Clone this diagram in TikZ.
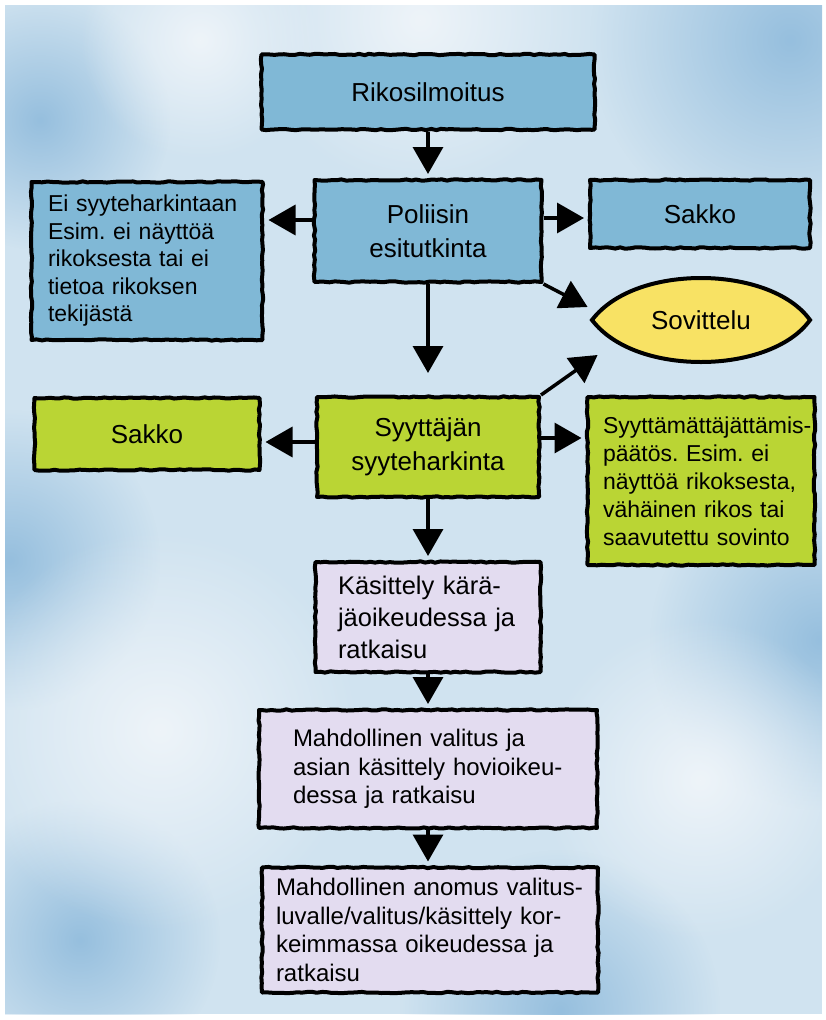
\documentclass[tikz,border=0pt]{standalone}
\usepackage{fontspec}
\setmainfont{Liberation Sans}
\usetikzlibrary{arrows.meta,decorations.pathmorphing,shapes.geometric,fadings}

\definecolor{sky}{RGB}{208,227,240}
\definecolor{skydark}{RGB}{150,191,222}
\definecolor{skylight}{RGB}{238,244,249}
\definecolor{police}{RGB}{128,184,214}
\definecolor{prosecutor}{RGB}{186,213,52}
\definecolor{mediation}{RGB}{248,226,100}
\definecolor{court}{RGB}{227,220,240}

\tikzfading[name=blob, inner color=transparent!0, outer color=transparent!100]

\frenchspacing
\begin{document}
\begin{tikzpicture}[x=1pt, y=-1pt, thick,
    main/.style = {draw, rectangle, line width=4pt, line join=round, inner sep=0pt,
        decorate, decoration={random steps, segment length=5pt, amplitude=0.7pt},
        font=\fontsize{26}{34}\selectfont, align=center},
    small/.style = {font=\fontsize{23}{27.5}\selectfont, align=left},
    court/.style = {main, fill=court, align=left, font=\fontsize{24}{28.5}\selectfont},
    arr/.style = {line width=3.5pt, -{Triangle[length=27pt, width=30pt]}, shorten >=4pt}]
    \useasboundingbox (0,0) rectangle (826,1020);
    % watercolour sky
    \fill[white] (0,0) rectangle (826,1020);
    \begin{scope}
        \clip (5,5) rectangle (822,1014);
        \fill[sky] (5,5) rectangle (822,1014);
        \fill[skydark, path fading=blob] (790,40) circle (200);
        \fill[skydark, path fading=blob] (40,120) circle (130);
        \fill[skydark, path fading=blob] (820,640) circle (170);
        \fill[skydark, path fading=blob] (10,560) circle (150);
        \fill[skydark, path fading=blob] (560,1010) circle (160);
        \fill[skydark, path fading=blob] (80,940) circle (140);
        \fill[skylight, path fading=blob] (420,20) circle (170);
        \fill[skylight, path fading=blob] (160,730) circle (200);
        \fill[skylight, path fading=blob] (700,780) circle (160);
        \fill[skylight, path fading=blob] (200,40) circle (120);
    \end{scope}

    \node[main, fill=police, minimum width=333pt, minimum height=75pt] (1) at (428,92) {Rikosilmoitus};

    \node[main, fill=police, minimum width=227pt, minimum height=102pt] (2) at (428,231) {Poliisin\\esitutkinta};
    \draw[arr] (1.south) -- (2.north);

    \node[main, small, fill=police, minimum width=231pt, minimum height=158pt, text width=198pt] (3) at (147,261) {Ei syyteharkintaan\\Esim.\ ei näyttöä\\rikoksesta tai ei\\tietoa rikoksen\\tekijästä};
    \draw[arr] ([yshift=11pt]2.west) -- ([yshift=11pt]2.west -| 3.east);

    \node[main, fill=police, minimum width=220pt, minimum height=68pt] (4) at (700,214) {Sakko};
    \draw[arr] ([yshift=13pt]2.east) -- ([yshift=13pt]2.east -| 4.west);

    % lens shaped mediation
    \filldraw[fill=mediation, line width=4pt] (592,320) .. controls (615,290) and (660,278) .. (701,278)
        .. controls (745,278) and (790,292) .. (810,320) .. controls (790,348) and (745,362) .. (701,362)
        .. controls (660,362) and (615,350) .. (592,320) -- cycle;
    \node[ellipse, minimum width=218pt, minimum height=84pt, inner sep=0pt, font=\fontsize{26}{34}\selectfont] (5) at (701,320) {Sovittelu};
    \draw[arr, shorten >=0pt] (2.south east) -- ([shift={(-4pt,13pt)}]5.west);

    \node[main, fill=prosecutor, minimum width=222pt, minimum height=100pt] (6) at (428,447) {Syyttäjän\\syyteharkinta};
    \draw[arr, shorten >=22pt] (2.south) -- (6.north);
    \draw[arr, shorten >=0pt] (6.north east) -- ([shift={(6pt,-35pt)}]5.west);

    \node[main, fill=prosecutor, minimum width=225pt, minimum height=72pt] (7) at (147,434) {Sakko};
    \draw[arr] ([yshift=5pt]6.west) -- ([yshift=5pt]6.west -| 7.east);

    \node[main, small, fill=prosecutor, minimum width=227pt, minimum height=168pt, text width=196pt, font=\fontsize{23}{28}\selectfont] (8) at (701,481) {\mbox{Syyttämättäjättämis-}\\päätös. Esim.\ ei\\näyttöä rikoksesta,\\vähäinen rikos tai\\saavutettu sovinto};
    \draw[arr] ([yshift=9pt]6.east) -- ([yshift=9pt]6.east -| 8.west);

    \node[court, minimum width=225pt, minimum height=110pt, text width=180pt, font=\fontsize{25.5}{32}\selectfont] (9) at (428,617) {Käsittely kärä-\\jäoikeudessa ja\\ratkaisu};
    \draw[arr] (6.south) -- (9.north);

    \node[court, minimum width=338pt, minimum height=118pt, text width=270pt] (10) at (428,769) {Mahdollinen valitus ja\\asian käsittely hovioikeu-\\dessa ja ratkaisu};
    \draw[arr] (9.south) -- (10.north);

    \node[court, minimum width=336pt, minimum height=125pt, text width=308pt] (11) at (430,930) {Mahdollinen anomus valitus-\\luvalle/valitus/käsittely kor-\\keimmassa oikeudessa ja\\ratkaisu};
    \draw[arr] (10.south) -- (10.south |- 11.north);
\end{tikzpicture}
\end{document}
